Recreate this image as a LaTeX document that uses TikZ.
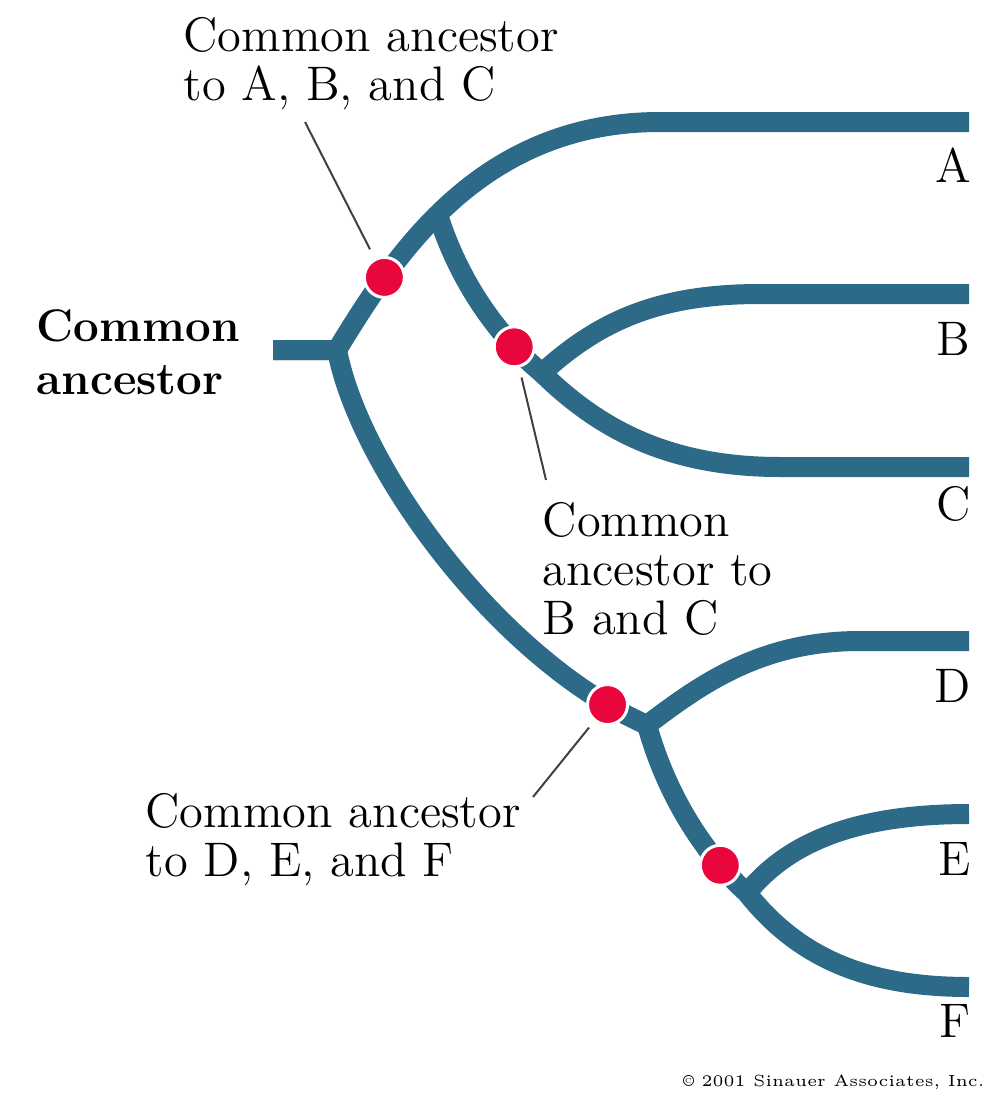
\documentclass[tikz,border=0pt]{standalone}
\usetikzlibrary{positioning,calc}
\definecolor{branch}{HTML}{2D6A87}
\definecolor{dotred}{HTML}{E8063C}
\tikzset{lineage/.style={draw=branch,line width=2mm,line join=round},
  anc/.style={circle,fill=dotred,draw=white,line width=0.3mm,minimum size=4mm,inner sep=0pt},
  leader/.style={draw=black!75,line width=0.2mm},
  lbl/.style={align=left,inner sep=0pt,anchor=north west,font=\fontsize{13.8}{13.9}\selectfont},
  taxon/.style={anchor=base east,inner sep=0pt,font=\fontsize{13.8}{14}\selectfont}}
\begin{document}
\begin{tikzpicture}[x=0.1mm,y=-0.1mm]
\useasboundingbox (0,0) rectangle (987,1093);
\coordinate (root0) at (273,350);
\coordinate (root) at (337,350);
\coordinate (def) at (647,725);
\coordinate (ef) at (747,893);
\coordinate (bc) at (542,373);
\coordinate (leafA) at (969,122);
\coordinate (leafB) at (969,294);
\coordinate (leafC) at (969,467);
\coordinate (leafD) at (969,641);
\coordinate (leafE) at (969,814);
\coordinate (leafF) at (969,987);
\draw[lineage] (root0) -- (root) .. controls (395,255) and (480,122) .. (660,122) coordinate[pos=.24] (pABC) coordinate[pos=.45] (bc0) -- (leafA);
\draw[lineage] (root0) -- (root) .. controls (360,470) and (500,660) .. (def) coordinate[pos=.91] (pDEF) .. controls (700,685) and (760,641) .. (860,641) -- (leafD);
\draw[lineage] (def) .. controls (665,790) and (700,850) .. (ef) coordinate[pos=.8] (pEF) .. controls (800,960) and (870,987) .. (leafF);
\draw[lineage] (ef) .. controls (790,840) and (860,814) .. (leafE);
\draw[lineage] (bc0) .. controls (455,270) and (490,330) .. (bc) coordinate[pos=.81] (pBC) .. controls (600,320) and (660,294) .. (760,294) -- (leafB);
\draw[lineage] (bc) .. controls (600,430) and (670,467) .. (780,467) -- (leafC);
\node[anc] (dABC) at (pABC) {};
\node[anc] (dBC) at (pBC) {};
\node[anc] (dDEF) at (pDEF) {};
\node[anc] (dEF) at (pEF) {};
\node[lbl,font=\bfseries\fontsize{13}{15}\selectfont] (rootlbl) at (36,309) {Common\\ancestor};
\node[lbl] (tABC) at (183,17) {Common ancestor\\to A, B, and C};
\node[lbl] (tBC) at (542,502) {Common\\ancestor to\\B and C};
\node[lbl] (tDEF) at (145,793) {Common ancestor\\to D, E, and F};
\coordinate (lABC) at (305,122);
\coordinate (lBC) at (546,480);
\coordinate (lDEF) at (533,797);
\draw[leader,shorten >=1mm] (lABC) -- (dABC);
\draw[leader,shorten >=1mm] (lBC) -- (dBC);
\draw[leader,shorten >=0.8mm] (lDEF) -- (dDEF);
\node[taxon] (nA) at (972,182) {A};
\node[taxon] (nB) at (971,355) {B};
\node[taxon] (nC) at (971,520) {C};
\node[taxon] (nD) at (971,702) {D};
\node[taxon] (nE) at (971,875) {E};
\node[taxon] (nF) at (971,1037) {F};
\node[anchor=base east,inner sep=0pt,font=\fontsize{4.6}{5}\selectfont] (copy) at (985,1086) {\textcopyright\ 2001 Sinauer Associates, Inc.};
\end{tikzpicture}
\end{document}
